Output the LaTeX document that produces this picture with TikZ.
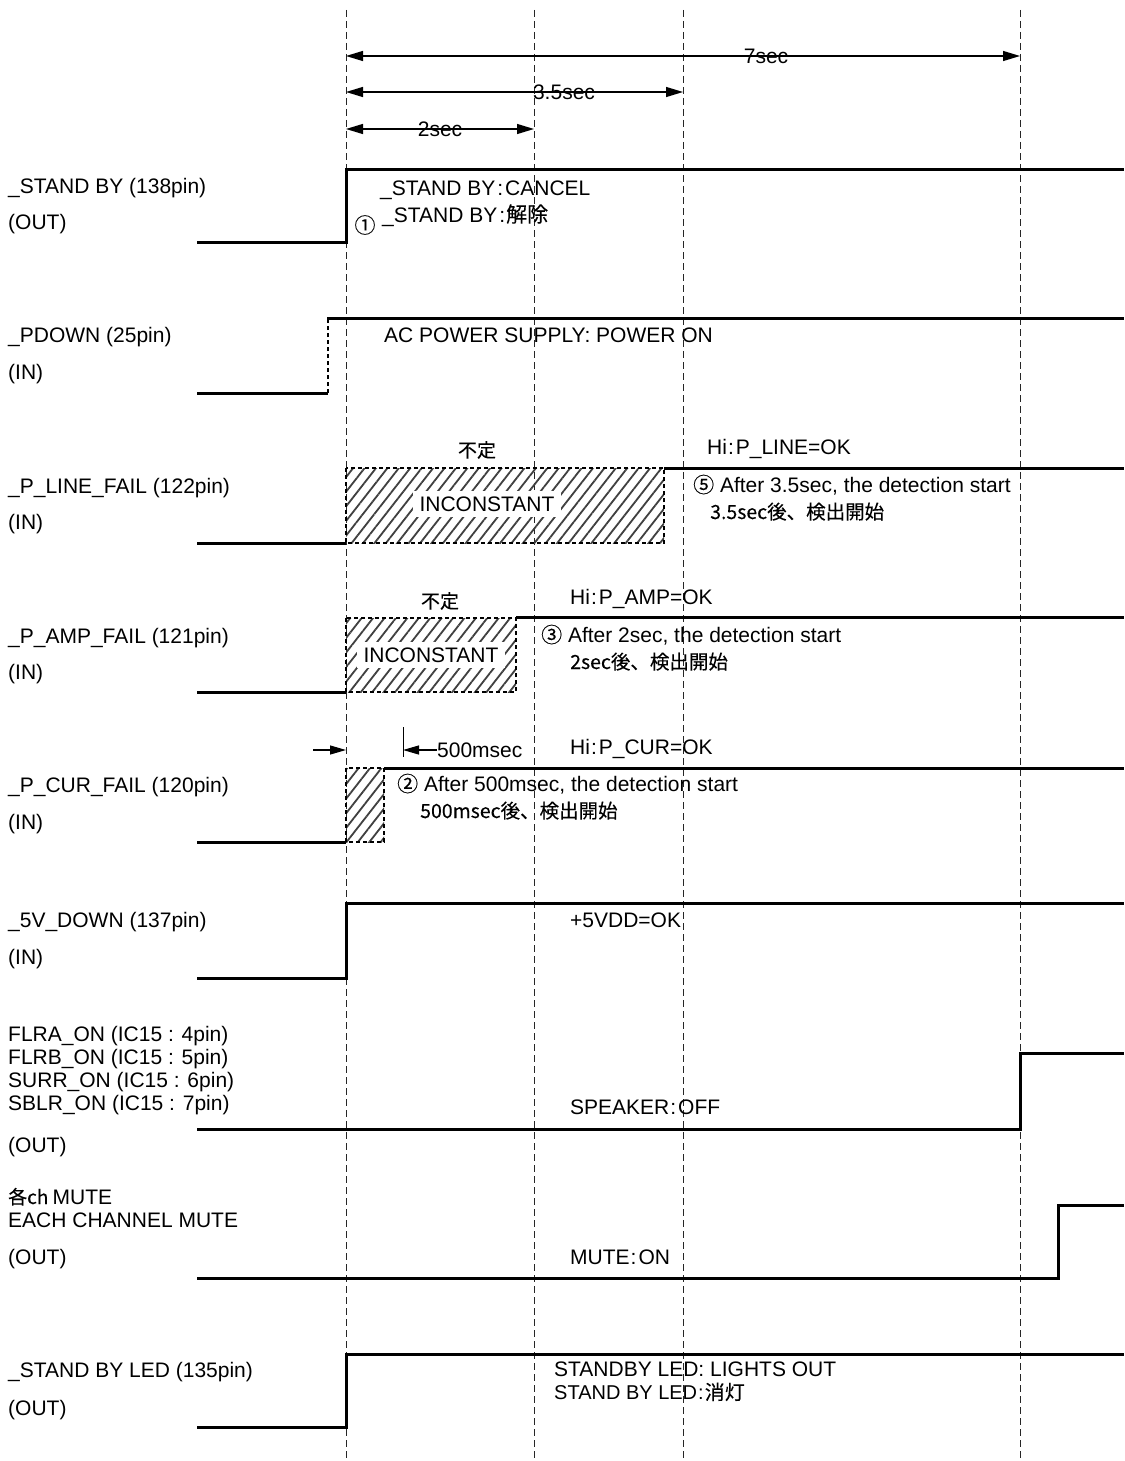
\documentclass[tikz,border=0pt]{standalone}
\usepackage{fontspec}
\setmainfont{Liberation Sans}
\newfontfamily\jp[FakeBold=0.2]{Noto Sans CJK JP}
\usetikzlibrary{arrows.meta,patterns.meta}
\begin{document}
\begin{tikzpicture}[x=1pt,y=-1pt,
  sig/.style={line width=3pt, line join=miter},
  dsig/.style={line width=2.8pt, dash pattern=on 4pt off 3pt},
  gridline/.style={line width=0.8pt, dash pattern=on 7pt off 4pt, black!85},
  dimarr/.style={line width=1.2pt, {Triangle[length=17pt,width=10pt]}-{Triangle[length=17pt,width=10pt]}},
  onearr/.style={line width=1.2pt, -{Triangle[length=16pt,width=9pt]}},
  lbl/.style={anchor=base west, inner sep=0pt, font=\fontsize{21}{25}\selectfont},
  sml/.style={anchor=base west, inner sep=0pt, font=\jp\fontsize{19.5}{22}\selectfont},
  jpl/.style={anchor=center, inner sep=0pt, font=\jp\fontsize{19}{22}\selectfont},
  hatchbox/.style={pattern={Lines[angle=52,distance=9pt,line width=1.8pt]}, pattern color=black!75},
  whitelbl/.style={fill=white, inner xsep=7pt, inner ysep=6pt, font=\fontsize{21}{25}\selectfont},
]
\fill[white] (0,0) rectangle (1124,1461);
\useasboundingbox (0,0) rectangle (1124,1461);

% time grid lines
\foreach \x/\n in {346/ga,534/gb,683/gc,1020/gd}{
  \coordinate (\n top) at (\x,10);
  \coordinate (\n bot) at (\x,1461);
  \draw[gridline] (\n top) -- (\n bot);
}

% dimension arrows
\coordinate (d7a) at (346,56);  \coordinate (d7b) at (1020,56);
\coordinate (d35a) at (346,92); \coordinate (d35b) at (683,92);
\coordinate (d2a) at (346,129); \coordinate (d2b) at (534,129);
\draw[dimarr] (d7a) -- (d7b);
\draw[dimarr] (d35a) -- (d35b);
\draw[dimarr] (d2a) -- (d2b);
\node[lbl, anchor=center] (t7) at (766,56) {7sec};
\node[lbl, anchor=center] (t35) at (564,92) {3.5sec};
\node[lbl, anchor=center] (t2) at (440,129) {2sec};

% ---------- left labels
\node[lbl] (l1) at (8,193.5) {\_STAND BY (138pin)};
\node[lbl] (l1b) at (8,229.5) {(OUT)};
\node[lbl] (l2) at (8,342.5) {\_PDOWN (25pin)};
\node[lbl] (l2b) at (8,379.5) {(IN)};
\node[lbl] (l3) at (8,493.5) {\_P\_LINE\_FAIL (122pin)};
\node[lbl] (l3b) at (8,529.5) {(IN)};
\node[lbl] (l4) at (8,643.5) {\_P\_AMP\_FAIL (121pin)};
\node[lbl] (l4b) at (8,679.5) {(IN)};
\node[lbl] (l5) at (8,792.5) {\_P\_CUR\_FAIL (120pin)};
\node[lbl] (l5b) at (8,829.5) {(IN)};
\node[lbl] (l6) at (8,927.5) {\_5V\_DOWN (137pin)};
\node[lbl] (l6b) at (8,964.5) {(IN)};
\node[lbl] (l7a) at (8,1041.5) {FLRA\_ON (IC15 : 4pin)};
\node[lbl] (l7b) at (8,1064.5) {FLRB\_ON (IC15 : 5pin)};
\node[lbl] (l7c) at (8,1087.5) {SURR\_ON (IC15 : 6pin)};
\node[lbl] (l7d) at (8,1110.5) {SBLR\_ON (IC15 : 7pin)};
\node[lbl] (l7e) at (8,1152.5) {(OUT)};
\node[lbl] (l8a) at (8,1204) {{\jp\fontsize{19}{20}\selectfont 各ch }MUTE};
\node[lbl] (l8b) at (8,1227.5) {EACH CHANNEL MUTE};
\node[lbl] (l8c) at (8,1264.5) {(OUT)};
\node[lbl] (l9) at (8,1377.5) {\_STAND BY LED (135pin)};
\node[lbl] (l9b) at (8,1415.5) {(OUT)};

% ---------- 1 STAND BY
\draw[sig] (197,242) -- (346,242) -- (346,169) -- (1124,169);
\node[lbl] (s1a) at (380,195.5) {\_STAND BY\kern2pt:\kern2pt CANCEL};
\node[jpl, font=\jp\fontsize{21}{22}\selectfont] (s1n) at (365,225) {①};
\node[lbl] (s1b) at (382,222) {\_STAND BY\kern2pt:\kern1pt{\jp 解除}};

% ---------- 2 PDOWN
\draw[sig] (197,393) -- (328,393);
\draw[dsig] (328,393) -- (328,318);
\draw[sig] (327,318) -- (1124,318);
\node[lbl] (s2) at (384,342.5) {AC POWER SUPPLY: POWER ON};

% ---------- 3 P_LINE_FAIL
\fill[hatchbox] (346,468) rectangle (664,543);
\node[whitelbl] (inc1) at (487,504) {INCONSTANT};
\draw[dsig] (346,468) rectangle (664,543);
\draw[sig] (197,543) -- (346,543);
\draw[sig] (664,468) -- (1124,468);
\node[jpl] (u1) at (477,450) {不定};
\node[lbl] (h3) at (707,454.5) {Hi\kern1pt:\kern2pt P\_LINE=OK};
\node[lbl] (c3) at (693,492.5) {{\jp ⑤} After 3.5sec, the detection start};
\node[sml] (c3b) at (710,519) {3.5sec後、検出開始};

% ---------- 4 P_AMP_FAIL
\fill[hatchbox] (346,618) rectangle (516,692);
\node[whitelbl] (inc2) at (431,655) {INCONSTANT};
\draw[dsig] (346,618) rectangle (516,692);
\draw[sig] (197,692) -- (346,692);
\draw[sig] (516,617) -- (1124,617);
\node[jpl] (u2) at (440,601) {不定};
\node[lbl] (h4) at (570,604.5) {Hi\kern1pt:\kern2pt P\_AMP=OK};
\node[lbl] (c4) at (541,642.5) {{\jp ③} After 2sec, the detection start};
\node[sml] (c4b) at (570,669) {2sec後、検出開始};

% ---------- 5 P_CUR_FAIL
\fill[hatchbox] (346,768) rectangle (384,842);
\draw[dsig] (346,768) rectangle (384,842);
\draw[sig] (197,842) -- (346,842);
\draw[sig] (384,768) -- (1124,768);
\coordinate (m1a) at (313,750);
\coordinate (m1b) at (346,750);
\draw[onearr] (m1a) -- (m1b);
\coordinate (tk1) at (403,727);
\coordinate (tk2) at (403,757);
\draw[line width=1pt] (tk1) -- (tk2);
\coordinate (m2a) at (437,750);
\coordinate (m2b) at (403,750);
\draw[onearr] (m2a) -- (m2b);
\node[lbl] (t500) at (437,757.5) {500msec};
\node[lbl] (h5) at (570,754.5) {Hi\kern1pt:\kern2pt P\_CUR=OK};
\node[lbl] (c5) at (397,791.5) {{\jp ②} After 500msec, the detection start};
\node[sml] (c5b) at (420,818) {500msec後、検出開始};

% ---------- 6 5V_DOWN
\draw[sig] (197,978) -- (346,978) -- (346,903) -- (1124,903);
\node[lbl] (s6) at (570,927.5) {+5VDD=OK};

% ---------- 7 speakers
\draw[sig] (197,1129) -- (1020,1129) -- (1020,1053) -- (1124,1053);
\node[lbl] (s7) at (570,1114.5) {SPEAKER\kern1pt:\kern2pt OFF};

% ---------- 8 mute
\draw[sig] (197,1278) -- (1058,1278) -- (1058,1205) -- (1124,1205);
\node[lbl] (s8) at (570,1264.5) {MUTE\kern1pt:\kern2pt ON};

% ---------- 9 LED
\draw[sig] (197,1427) -- (346,1427) -- (346,1354) -- (1124,1354);
\node[lbl] (s9a) at (554,1376.5) {STANDBY LED: LIGHTS OUT};
\node[lbl, font=\fontsize{20}{24}\selectfont] (s9b) at (554,1399.5) {STAND BY LED\kern1pt:\kern1pt{\jp 消灯}};
\end{tikzpicture}
\end{document}
